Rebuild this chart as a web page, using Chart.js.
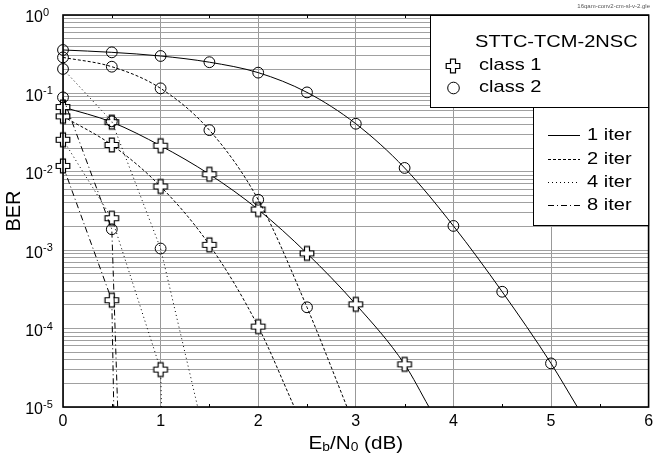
<!DOCTYPE html>
<html>
<head>
<meta charset="utf-8">
<script src="https://cdn.jsdelivr.net/npm/chart.js@4.4.0/dist/chart.umd.min.js"></script>
<style>
  body { margin: 0; background: #fff; }
</style>
</head>
<body>
<canvas id="ber-chart" width="655" height="459"></canvas>
<script>
// Eb/N0 (dB) and BER. The last point of every curve is
// where it runs out through the 1e-5 floor, it has no marker.
const c1_1iter_x = [0, 0.5, 1, 1.5, 2, 2.5, 3, 3.5, 3.75]
const c1_1iter_y = [0.067, 0.043, 0.0215, 0.0093, 0.0033, 0.00091, 0.000204, 0.000035, 1e-5]
const c2_1iter_x = [0, 0.5, 1, 1.5, 2, 2.5, 3, 3.5, 4, 4.5, 5, 5.27]
const c2_1iter_y = [0.358, 0.334, 0.30, 0.25, 0.184, 0.103, 0.041, 0.0112, 0.00204, 0.000295, 0.000036, 1e-5]

const c1_2iter_x = [0, 0.5, 1, 1.5, 2, 2.37]
const c1_2iter_y = [0.051, 0.022, 0.0065, 0.00117, 0.000106, 1e-5]
const c2_2iter_x = [0, 0.5, 1, 1.5, 2, 2.5, 2.91]
const c2_2iter_y = [0.288, 0.219, 0.116, 0.034, 0.0044, 0.000187, 1e-5]

const c1_4iter_x = [0, 0.5, 1, 1.01]
const c1_4iter_y = [0.0256, 0.00256, 0.00003, 1e-5]
const c2_4iter_x = [0, 0.5, 1, 1.38]
const c2_4iter_y = [0.205, 0.044, 0.00105, 1e-5]

const c1_8iter_x = [0, 0.5, 0.52]
const c1_8iter_y = [0.0119, 0.00023, 1e-5]
const c2_8iter_x = [0, 0.5, 0.56]
const c2_8iter_y = [0.089, 0.00185, 1e-5]

const xTicks = [0, 1, 2, 3, 4, 5, 6]
const yDecades = [0, -1, -2, -3, -4, -5]
const yMinor = [1, 2, 3, 4, 5, 6, 7, 8, 9]
const iterLabels = ["1 iter", "2 iter", "4 iter", "8 iter"]
const dashes = [[], [3, 2], [1, 3], [6, 3, 1, 3]]
const FONT = '"Liberation Sans", Arial, sans-serif'

// hollow plus marker
const crossImg = document.createElement("canvas")
crossImg.width = 18; crossImg.height = 18
;(() => {
  const g = crossImg.getContext("2d")
  const a = 6.8, w = 2.5, c = 9
  g.beginPath()
  g.moveTo(c - w, c - a); g.lineTo(c + w, c - a); g.lineTo(c + w, c - w)
  g.lineTo(c + a, c - w); g.lineTo(c + a, c + w); g.lineTo(c + w, c + w)
  g.lineTo(c + w, c + a); g.lineTo(c - w, c + a); g.lineTo(c - w, c + w)
  g.lineTo(c - a, c + w); g.lineTo(c - a, c - w); g.lineTo(c - w, c - w)
  g.closePath()
  g.fillStyle = "#fff"; g.fill()
  g.strokeStyle = "#000"; g.lineWidth = 1.2; g.stroke()
})()

const toPoints = (xs, ys) => xs.map((x, i) => ({ x: x, y: ys[i] }))

const makeSet = (xs, ys, iter, cls) => {
  const n = xs.length
  const smooth = iter < 2
  return {
    label: `class ${cls} ${iterLabels[iter]}`,
    data: toPoints(xs, ys),
    borderColor: "#000",
    borderWidth: 1,
    borderDash: dashes[iter],
    backgroundColor: "rgba(0,0,0,0)",
    pointStyle: cls === 1 ? crossImg : "circle",
    pointRadius: xs.map((_, i) => (i === n - 1 ? 0 : 5.4)),
    pointBorderColor: "#000",
    pointBorderWidth: 1,
    pointBackgroundColor: "rgba(0,0,0,0)",
    cubicInterpolationMode: smooth ? "monotone" : "default",
    tension: 0,
    clip: { left: 10, top: 10, right: 10, bottom: 0 },
  }
}

const datasets = [
  makeSet(c2_1iter_x, c2_1iter_y, 0, 2),
  makeSet(c2_2iter_x, c2_2iter_y, 1, 2),
  makeSet(c2_4iter_x, c2_4iter_y, 2, 2),
  makeSet(c2_8iter_x, c2_8iter_y, 3, 2),
  makeSet(c1_1iter_x, c1_1iter_y, 0, 1),
  makeSet(c1_2iter_x, c1_2iter_y, 1, 1),
  makeSet(c1_4iter_x, c1_4iter_y, 2, 1),
  makeSet(c1_8iter_x, c1_8iter_y, 3, 1),
]

const yGrid = []
yDecades.forEach((e) => {
  if (e === 0) { yGrid.push(1); return }
  yMinor.forEach((m) => yGrid.push(m * Math.pow(10, e)))
})

const text = (ctx, s, x, y, size, align, sx) => {
  ctx.save()
  ctx.font = `${size}px ${FONT}`
  ctx.textBaseline = "middle"
  ctx.textAlign = align
  ctx.translate(x, y)
  ctx.scale(sx || 1, 1)
  ctx.fillText(s, 0, 0)
  ctx.restore()
}

const decorations = {
  id: "decorations",
  afterDraw: (chart) => {
    const { ctx, chartArea: a, scales } = chart
    const xs = scales.x, ys = scales.y
    ctx.save()
    ctx.fillStyle = "#000"
    ctx.strokeStyle = "#000"

    // half-unit ticks on top and bottom edges
    ctx.lineWidth = 1
    for (let v = 0.5; v < 6; v += 1) {
      const px = Math.round(xs.getPixelForValue(v)) + 0.5
      ctx.beginPath()
      ctx.moveTo(px, a.top); ctx.lineTo(px, a.top + 3)
      ctx.moveTo(px, a.bottom); ctx.lineTo(px, a.bottom - 3)
      ctx.stroke()
    }

    // frame
    ctx.lineWidth = 1.6
    ctx.strokeRect(a.left, a.top, a.right - a.left, a.bottom - a.top)

    // x tick labels
    xTicks.forEach((v) => text(ctx, String(v), xs.getPixelForValue(v), 422, 16, "center"))

    // y tick labels 10^e
    yDecades.forEach((e) => {
      const py = ys.getPixelForValue(Math.pow(10, e))
      text(ctx, "10", 43, py + 3, 16, "right")
      text(ctx, String(e), 43, py - 2, 11, "left")
    })

    // axis titles
    ctx.save()
    ctx.translate(14, (a.top + a.bottom) / 2)
    ctx.rotate(-Math.PI / 2)
    text(ctx, "BER", 0, 0, 20, "center")
    ctx.restore()

    const parts = [["E", 18, 0], ["b", 12, 4], ["/N", 18, 0], ["0", 12, 4], [" (dB)", 18, 0]]
    const sx = 1.15
    let total = 0
    parts.forEach((p) => { ctx.font = `${p[1]}px ${FONT}`; total += ctx.measureText(p[0]).width * sx })
    let cx = (a.left + a.right) / 2 - total / 2
    parts.forEach((p) => {
      ctx.font = `${p[1]}px ${FONT}`
      const w = ctx.measureText(p[0]).width * sx
      text(ctx, p[0], cx, 444 + p[2], p[1], "left", sx)
      cx += w
    })

    // legend: marker box
    ctx.lineWidth = 1
    ctx.fillStyle = "#fff"
    ctx.fillRect(430, a.top, a.right - 430, 92)
    ctx.strokeRect(430.5, a.top + 0.5, a.right - 430.5, 92)
    ctx.fillStyle = "#000"
    text(ctx, "STTC-TCM-2NSC", 475, 42, 17, "left", 1.18)
    ctx.drawImage(crossImg, 453 - 9, 66 - 9)
    text(ctx, "class 1", 479, 65, 17, "left", 1.18)
    ctx.beginPath(); ctx.arc(453.5, 88, 5.8, 0, Math.PI * 2); ctx.stroke()
    text(ctx, "class 2", 479, 87, 17, "left", 1.18)

    // legend: line box
    ctx.fillStyle = "#fff"
    ctx.fillRect(533, a.top + 92, a.right - 533, 118)
    ctx.strokeRect(533.5, a.top + 92.5, a.right - 533.5, 118)
    ctx.fillStyle = "#000"
    const rows = [135, 159, 182, 205]
    iterLabels.forEach((lab, i) => {
      ctx.setLineDash(dashes[i])
      ctx.beginPath(); ctx.moveTo(548, rows[i] + 0.5); ctx.lineTo(580, rows[i] + 0.5); ctx.stroke()
      ctx.setLineDash([])
      text(ctx, lab, 587, rows[i], 17, "left", 1.18)
    })

    // file tag
    ctx.fillStyle = "#555"
    text(ctx, "16qam-conv2-cm-sl-v-2.gle", 650, 6, 6, "right")
    ctx.restore()
  }
}

new Chart(document.getElementById("ber-chart"), {
  type: "line",
  data: { datasets: datasets },
  options: {
    responsive: false,
    animation: false,
    events: [],
    layout: { padding: { left: 63, right: 4, top: 15, bottom: 52 } },
    plugins: { legend: { display: false }, tooltip: { enabled: false } },
    scales: {
      x: {
        type: "linear", min: 0, max: 6,
        ticks: { display: false, stepSize: 1 },
        grid: { color: "#999", lineWidth: 1, drawTicks: false },
        border: { display: false },
      },
      y: {
        type: "logarithmic", min: 1e-5, max: 1,
        afterBuildTicks: (axis) => { axis.ticks = yGrid.map((v) => ({ value: v })) },
        ticks: { display: false, autoSkip: false },
        grid: { color: "#a0a0a0", lineWidth: 1, drawTicks: false },
        border: { display: false },
      },
    },
  },
  plugins: [decorations],
})
</script>
</body>
</html>
